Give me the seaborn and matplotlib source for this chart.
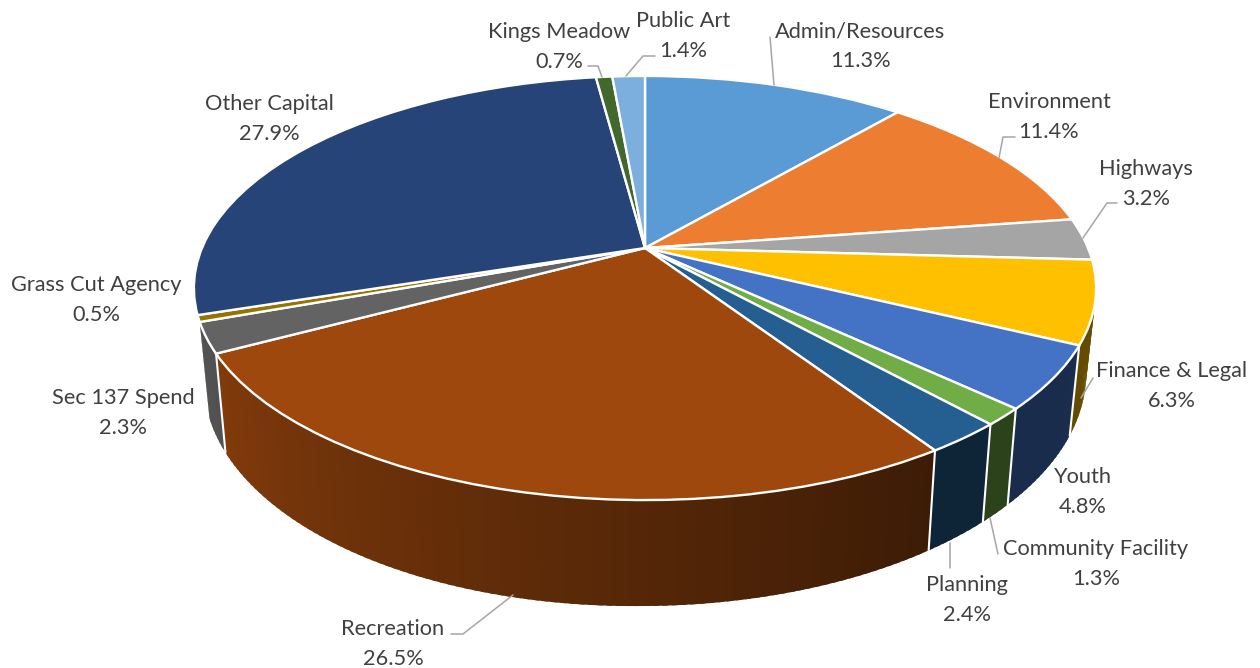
import numpy as np
import matplotlib
matplotlib.use("Agg")
import matplotlib.pyplot as plt
from matplotlib.transforms import Transform
import seaborn as sns

# Capital spend by area, percent of the total, clockwise from twelve o'clock
areas = ["Admin/Resources", "Environment", "Highways", "Finance & Legal", "Youth",
         "Community Facility", "Planning", "Recreation", "Sec 137 Spend",
         "Grass Cut Agency", "Other Capital", "Kings Meadow", "Public Art"]
shares = [11.3, 11.4, 3.2, 6.3, 4.8, 1.3, 2.4, 26.5, 2.3, 0.5, 27.9, 0.7, 1.4]
colours = ["#5B9BD5", "#ED7D31", "#A5A5A5", "#FFC000", "#4472C4", "#70AD47", "#255E91",
           "#9E480E", "#636363", "#997300", "#264478", "#43682B", "#7CAFDD"]

# Label anchor (centre x, centre y) for each area, in pixels
label_x = [860, 1049, 1146, 1172, 1083, 1096, 967, 393, 123, 96, 269, 559, 683]
label_y = [46, 117, 184, 386, 492, 564, 600, 644, 413, 300, 119, 47, 36]

# Leader lines as pixel polylines
leaders = [
    [(770, 37), (774, 85)],
    [(1015, 137), (1003, 137), (999, 158)],
    [(1117, 203), (1107, 203), (1083, 238)],
    [(1093, 378), (1081, 398)],
    [(998, 554), (990, 518)],
    [(950, 568), (950, 543)],
    [(451, 634), (463, 634), (513, 595)],
    [(655, 56), (643, 56), (626, 76)],
    [(588, 66), (598, 66), (602, 77)],
]

CX, CY = 645.0, 248.0
KP, AY, BX = 0.1887, 204.5, 443.0
WALL_FROM, WALL_TO = 93.0, 250.2


class TiltedDisc(Transform):
    """Projects the unit disc of the pie onto a plane seen in perspective."""
    input_dims = 2
    output_dims = 2

    def transform_non_affine(self, values):
        values = np.asarray(values, dtype=float)
        u, v = values[:, 0], values[:, 1]
        d = 1 + KP * v
        return np.column_stack([CX + BX * u / d, CY - AY * v / d])


def rim(angle_deg):
    """Top rim point for a clockwise angle from twelve o'clock."""
    a = np.radians(angle_deg)
    return TiltedDisc().transform_non_affine(np.column_stack([np.sin(a), np.cos(a)]))


def floor(points):
    """Drop rim points to the lower edge of the disc's side wall."""
    x, y = points[:, 0], points[:, 1]
    dx = x - CX
    drop = 84.5 + 0.085 * (y - CY) - np.where(dx < 0, 0.0127, 0.006) * dx
    return np.column_stack([CX + 0.978 * dx, y + drop])


sns.set_theme(style="white")
plt.rcParams["font.family"] = ["Lato", "DejaVu Sans"]
palette = sns.color_palette(colours)

fig = plt.figure(figsize=(12.6, 6.68), dpi=100, facecolor="white")
ax = fig.add_axes([0, 0, 1, 1])

wedges, _ = ax.pie(shares, startangle=90, counterclock=False, colors=palette,
                   wedgeprops={"edgecolor": "white", "linewidth": 1.7, "zorder": 5})
disc = TiltedDisc()
for wedge in wedges:
    wedge.set_transform(disc + ax.transData)
    wedge.set_clip_on(False)

ax.set_aspect("auto")
ax.set_xlim(0, 1260)
ax.set_ylim(668, 0)
ax.axis("off")

# Side wall, shaded from light on the left to dark on the right.
# Each strip runs a little into the next one so no hairline shows between them.
edges = np.concatenate([[0], np.cumsum(shares)]) * 3.6
for i, colour in enumerate(palette):
    lo, hi = max(edges[i], WALL_FROM), min(edges[i + 1], WALL_TO)
    if hi <= lo:
        continue
    steps = np.append(np.arange(lo, hi, 1.0), hi)
    for a0, a1 in zip(steps[:-1], steps[1:]):
        shade = np.interp(0.5 * (a0 + a1), [93, 146, 242, 262], [0.40, 0.38, 0.82, 0.86])
        top = rim(np.linspace(a0, min(a1 + 0.6, hi), 3))
        quad = np.vstack([top, floor(top)[::-1]])
        face = tuple(c * shade for c in colour)
        ax.fill(quad[:, 0], quad[:, 1], facecolor=face, edgecolor="none", zorder=2)

# White seams where neighbouring wall segments meet
for angle in edges[1:]:
    if 110 < angle < 245:
        top = rim(np.array([angle]))
        seam = np.vstack([top, floor(top)])
        ax.plot(seam[:, 0], seam[:, 1], color="white", lw=1.5, zorder=3)

for path in leaders:
    pts = np.array(path)
    ax.plot(pts[:, 0], pts[:, 1], color="#A6A6A6", lw=1.1, zorder=6, solid_capstyle="round")

for name, share, x, y in zip(areas, shares, label_x, label_y):
    ax.text(x, y, f"{name}\n{share:.1f}%", ha="center", va="center", fontsize=15.7,
            color="#404040", linespacing=1.62, zorder=7)

fig.savefig("out.png", dpi=100, facecolor="white")
